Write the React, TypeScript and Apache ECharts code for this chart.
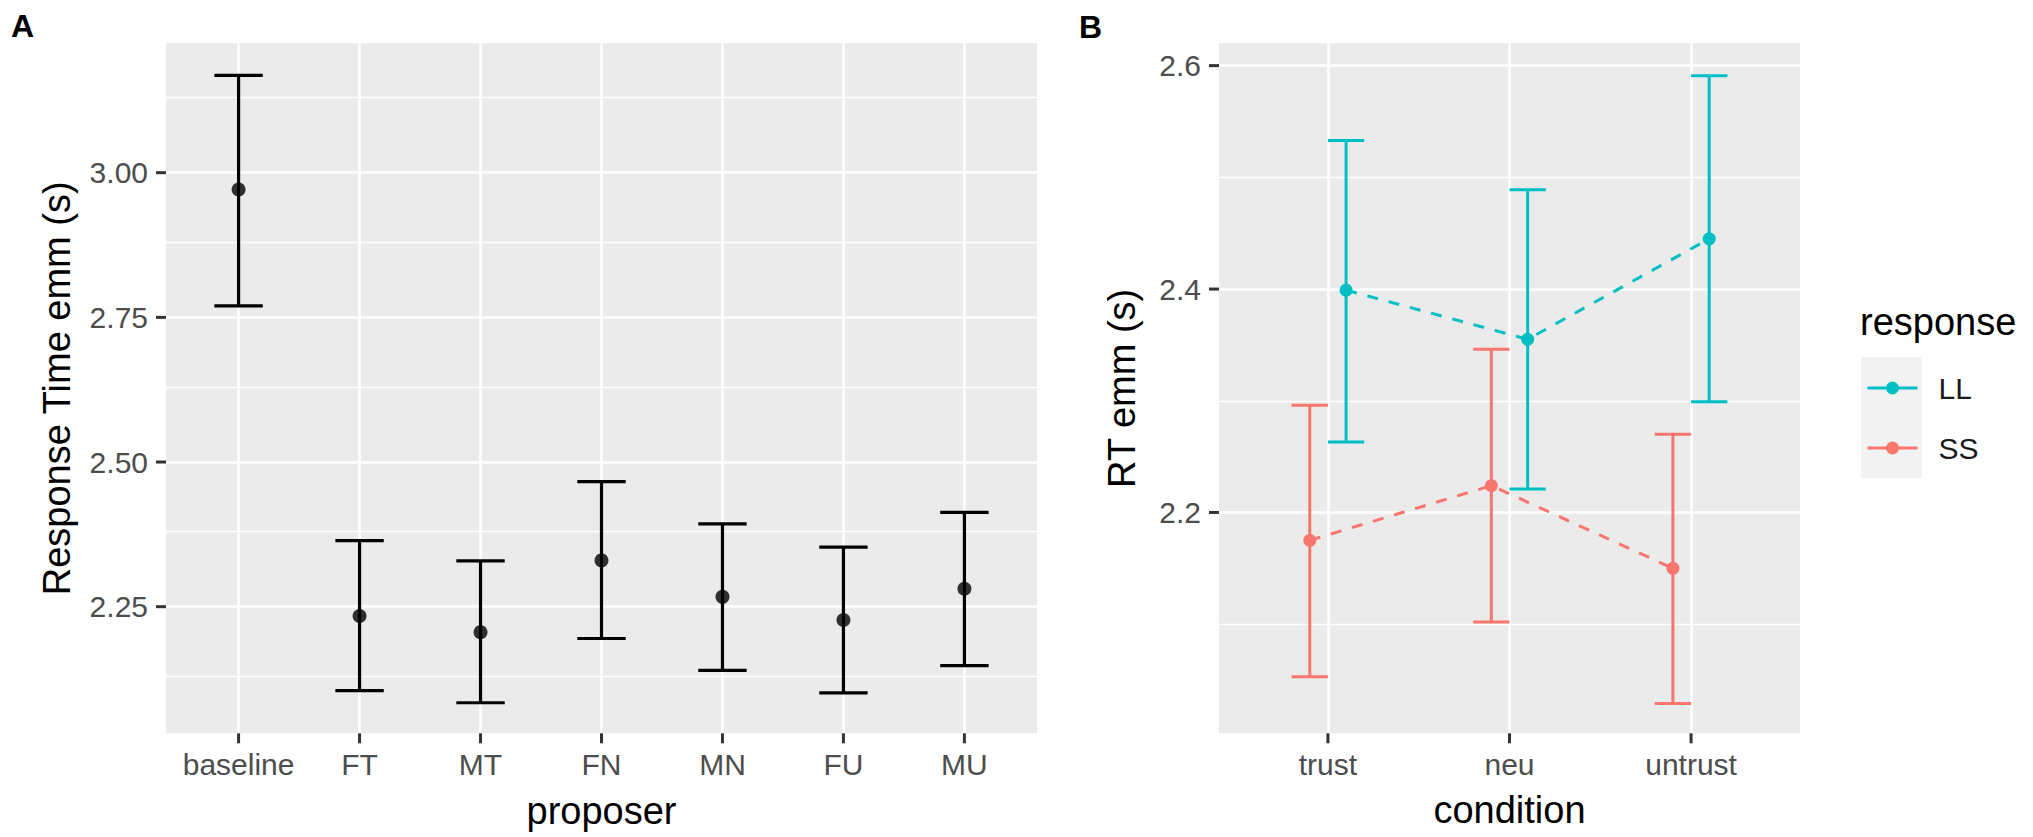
import React, { useEffect, useRef } from "react";
import * as echarts from "echarts";

// Panel A data
const proposers = ["baseline", "FT", "MT", "FN", "MN", "FU", "MU"];
const proposerMean = [2.971, 2.234, 2.206, 2.33, 2.267, 2.227, 2.281];
const proposerLower = [2.77, 2.105, 2.084, 2.195, 2.14, 2.101, 2.148];
const proposerUpper = [3.168, 2.364, 2.329, 2.466, 2.393, 2.353, 2.413];
const yTicksA = [2.25, 2.5, 2.75, 3.0];
const yMinorA = [2.125, 2.375, 2.625, 2.875, 3.125];

// Panel B data
const conditions = ["trust", "neu", "untrust"];
const responses = ["LL", "SS"];
const llMean = [2.399, 2.355, 2.445];
const llLower = [2.263, 2.221, 2.299];
const llUpper = [2.533, 2.489, 2.591];
const ssMean = [2.175, 2.224, 2.15];
const ssLower = [2.053, 2.102, 2.029];
const ssUpper = [2.296, 2.346, 2.27];
const yTicksB = [2.2, 2.4, 2.6];
const yMinorB = [2.1, 2.3, 2.5];

// Axis ranges
const A_XMIN = -0.6;
const A_XMAX = 6.6;
const A_YMIN = 2.0312;
const A_YMAX = 3.2236;
const B_XMIN = -0.6;
const B_XMAX = 2.6;
const B_YMIN = 2.0023;
const B_YMAX = 2.62;

const FONT = "'Liberation Sans', Arial, sans-serif";
const LL_COLOR = "#00BFC4";
const SS_COLOR = "#F8766D";
const DODGE = 0.1;
const TICK_LEN = 10;

function errorBarRenderer(offset: number, halfCap: number, color: string, width: number) {
  return (params: any, api: any) => {
    const x = api.value(0) + offset;
    const lo = api.value(1);
    const hi = api.value(2);
    const pLo = api.coord([x, lo]);
    const pHi = api.coord([x, hi]);
    const cL = api.coord([x - halfCap, lo]);
    const cR = api.coord([x + halfCap, lo]);
    const style = { stroke: color, lineWidth: width };
    return {
      type: "group",
      children: [
        { type: "line", shape: { x1: pLo[0], y1: pLo[1], x2: pHi[0], y2: pHi[1] }, style },
        { type: "line", shape: { x1: cL[0], y1: pLo[1], x2: cR[0], y2: pLo[1] }, style },
        { type: "line", shape: { x1: cL[0], y1: pHi[1], x2: cR[0], y2: pHi[1] }, style },
      ],
    };
  };
}

// Axis tick marks (ggplot-style, outside the panel)
function tickRenderer(dir: "x" | "y") {
  return (params: any, api: any) => {
    const p = api.coord([api.value(0), api.value(1)]);
    const shape =
      dir === "y"
        ? { x1: p[0] - TICK_LEN, y1: p[1], x2: p[0], y2: p[1] }
        : { x1: p[0], y1: p[1], x2: p[0], y2: p[1] + TICK_LEN };
    return { type: "line", shape, style: { stroke: "#333333", lineWidth: 3 } };
  };
}

function tickSeries(dir: "x" | "y", axisIdx: number, data: number[][]) {
  return {
    type: "custom",
    xAxisIndex: axisIdx,
    yAxisIndex: axisIdx,
    silent: true,
    clip: false,
    z: 6,
    renderItem: tickRenderer(dir),
    data,
    encode: { x: 0, y: 1 },
  };
}

const labelBase = { color: "#4D4D4D", fontSize: 30, fontFamily: FONT };
const nameStyle = { color: "#000000", fontSize: 38, fontFamily: FONT };
const majorLine = { show: true, lineStyle: { color: "#FFFFFF", width: 2.6 } };

function minorMarkLine(values: number[], axis: "yAxis" | "xAxis") {
  return {
    silent: true,
    symbol: ["none", "none"],
    label: { show: false },
    emphasis: { disabled: true },
    lineStyle: { color: "#FFFFFF", width: 1.3, type: "solid", opacity: 1 },
    z: 1,
    animation: false,
    data: values.map((v) => ({ [axis]: v })),
  };
}

export default function App() {
  const ref = useRef<HTMLDivElement>(null);

  useEffect(() => {
    if (!ref.current) return;
    const chart = echarts.init(ref.current, undefined, { renderer: "svg" });

    const idxA = proposers.map((_, i) => i);
    const idxB = conditions.map((_, i) => i);

    const option: any = {
      animation: false,
      backgroundColor: "#FFFFFF",
      textStyle: { fontFamily: FONT },
      title: [
        { text: "A", left: 11, top: 10, padding: 0, textStyle: { fontSize: 32, fontWeight: "bold", color: "#000", fontFamily: FONT } },
        { text: "B", left: 1079, top: 11, padding: 0, textStyle: { fontSize: 32, fontWeight: "bold", color: "#000", fontFamily: FONT } },
        { text: "response", left: 1860, top: 303, padding: 0, textStyle: { fontSize: 38, fontWeight: "normal", color: "#000", fontFamily: FONT } },
      ],
      graphic: [
        { type: "rect", z: 0, shape: { x: 1861, y: 357, width: 61, height: 121 }, style: { fill: "#F2F2F2" } },
      ],
      legend: {
        orient: "vertical",
        left: 1866,
        top: 373,
        itemWidth: 50,
        itemHeight: 16,
        itemGap: 30,
        padding: 0,
        data: responses,
        selectedMode: false,
        textStyle: { fontSize: 30, color: "#1A1A1A", fontFamily: FONT, padding: [0, 0, 0, 16] },
        lineStyle: { type: "solid", width: 3 },
        z: 5,
      },
      grid: [
        { left: 166, top: 43.3, width: 871, height: 690, show: true, backgroundColor: "#EBEBEB", borderWidth: 0 },
        { left: 1219, top: 43.3, width: 581, height: 690, show: true, backgroundColor: "#EBEBEB", borderWidth: 0 },
      ],
      xAxis: [
        {
          gridIndex: 0,
          type: "value",
          min: A_XMIN,
          max: A_XMAX,
          axisLine: { show: false, onZero: false },
          axisTick: { show: false, customValues: idxA },
          axisLabel: { ...labelBase, customValues: idxA, margin: 16, formatter: (v: number) => proposers[Math.round(v)] ?? "" },
          splitLine: majorLine,
          name: "proposer",
          nameLocation: "middle",
          nameGap: 59,
          nameTextStyle: nameStyle,
        },
        {
          gridIndex: 1,
          type: "value",
          min: B_XMIN,
          max: B_XMAX,
          axisLine: { show: false, onZero: false },
          axisTick: { show: false, customValues: idxB },
          axisLabel: { ...labelBase, customValues: idxB, margin: 16, formatter: (v: number) => conditions[Math.round(v)] ?? "" },
          splitLine: majorLine,
          name: "condition",
          nameLocation: "middle",
          nameGap: 58,
          nameTextStyle: nameStyle,
        },
      ],
      yAxis: [
        {
          gridIndex: 0,
          type: "value",
          min: A_YMIN,
          max: A_YMAX,
          axisLine: { show: false, onZero: false },
          axisTick: { show: false, customValues: yTicksA },
          axisLabel: { ...labelBase, customValues: yTicksA, margin: 18, formatter: (v: number) => v.toFixed(2) },
          splitLine: majorLine,
          name: "Response Time emm (s)",
          nameLocation: "middle",
          nameRotate: 90,
          nameGap: 90,
          nameTextStyle: nameStyle,
        },
        {
          gridIndex: 1,
          type: "value",
          min: B_YMIN,
          max: B_YMAX,
          axisLine: { show: false, onZero: false },
          axisTick: { show: false, customValues: yTicksB },
          axisLabel: { ...labelBase, customValues: yTicksB, margin: 18, formatter: (v: number) => v.toFixed(1) },
          splitLine: majorLine,
          name: "RT emm (s)",
          nameLocation: "middle",
          nameRotate: 90,
          nameGap: 78,
          nameTextStyle: nameStyle,
        },
      ],
      series: [
        // Panel B mean lines first so the legend takes its icons from them
        {
          name: "LL",
          type: "line",
          xAxisIndex: 1,
          yAxisIndex: 1,
          data: idxB.map((i) => [i + DODGE, llMean[i]]),
          color: LL_COLOR,
          lineStyle: { color: LL_COLOR, width: 3, type: [11, 11] },
          itemStyle: { color: LL_COLOR },
          symbol: "circle",
          symbolSize: 13,
          showSymbol: true,
          z: 4,
        },
        {
          name: "SS",
          type: "line",
          xAxisIndex: 1,
          yAxisIndex: 1,
          data: idxB.map((i) => [i - DODGE, ssMean[i]]),
          color: SS_COLOR,
          lineStyle: { color: SS_COLOR, width: 3, type: [11, 11] },
          itemStyle: { color: SS_COLOR },
          symbol: "circle",
          symbolSize: 13,
          showSymbol: true,
          z: 4,
          markLine: minorMarkLine(yMinorB, "yAxis"),
        },
        {
          name: "LL errorbar",
          type: "custom",
          xAxisIndex: 1,
          yAxisIndex: 1,
          renderItem: errorBarRenderer(DODGE, 0.1, LL_COLOR, 3),
          data: idxB.map((i) => [i, llLower[i], llUpper[i]]),
          encode: { x: 0, y: [1, 2] },
          z: 3,
        },
        {
          name: "SS errorbar",
          type: "custom",
          xAxisIndex: 1,
          yAxisIndex: 1,
          renderItem: errorBarRenderer(-DODGE, 0.1, SS_COLOR, 3),
          data: idxB.map((i) => [i, ssLower[i], ssUpper[i]]),
          encode: { x: 0, y: [1, 2] },
          z: 3,
        },
        // Panel A
        {
          name: "proposer errorbar",
          type: "custom",
          xAxisIndex: 0,
          yAxisIndex: 0,
          renderItem: errorBarRenderer(0, 0.2, "#000000", 3.2),
          data: idxA.map((i) => [i, proposerLower[i], proposerUpper[i]]),
          encode: { x: 0, y: [1, 2] },
          z: 3,
          markLine: minorMarkLine(yMinorA, "yAxis"),
        },
        {
          name: "proposer mean",
          type: "scatter",
          xAxisIndex: 0,
          yAxisIndex: 0,
          data: idxA.map((i) => [i, proposerMean[i]]),
          symbol: "circle",
          symbolSize: 14,
          itemStyle: { color: "#000000" },
          z: 4,
        },
        // Tick marks
        tickSeries("y", 0, yTicksA.map((v) => [A_XMIN, v])),
        tickSeries("x", 0, idxA.map((i) => [i, A_YMIN])),
        tickSeries("y", 1, yTicksB.map((v) => [B_XMIN, v])),
        tickSeries("x", 1, idxB.map((i) => [i, B_YMIN])),
      ],
    };

    chart.setOption(option);
    return () => chart.dispose();
  }, []);

  return (
    <div
      ref={ref}
      style={{ position: "fixed", left: 0, top: 0, width: 2033, height: 837, background: "#FFFFFF" }}
    />
  );
}
